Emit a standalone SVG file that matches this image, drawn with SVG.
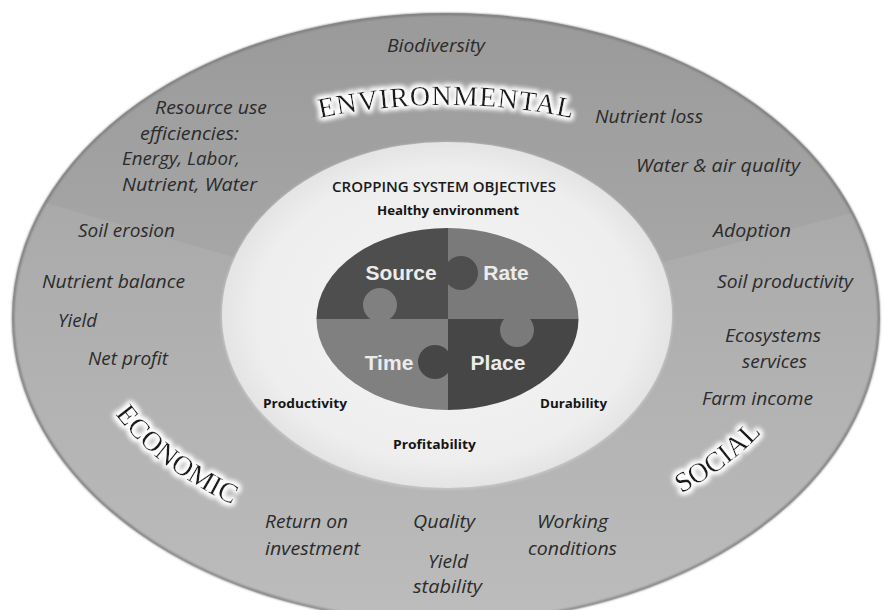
<svg xmlns="http://www.w3.org/2000/svg" width="884" height="610" viewBox="0 0 884 610">
  <defs>
    <linearGradient id="ringFill" x1="0" y1="0" x2="0" y2="1">
      <stop offset="0" stop-color="#a0a0a0"/>
      <stop offset="0.5" stop-color="#afafaf"/>
      <stop offset="1" stop-color="#bcbcbc"/>
    </linearGradient>
    <radialGradient id="coreFill" cx="0.5" cy="0.5" r="0.5">
      <stop offset="0" stop-color="#f4f4f4"/>
      <stop offset="0.85" stop-color="#eeeeee"/>
      <stop offset="1" stop-color="#e4e4e4"/>
    </radialGradient>
    <clipPath id="ringClip">
      <ellipse cx="446" cy="318" rx="434" ry="305"/>
    </clipPath>
    <clipPath id="puzzleClip">
      <ellipse cx="447.5" cy="319" rx="131" ry="91"/>
    </clipPath>
    <filter id="soft" x="-10%" y="-10%" width="120%" height="120%">
      <feGaussianBlur stdDeviation="1.2"/>
    </filter>
    <filter id="glow" x="-30%" y="-60%" width="160%" height="220%">
      <feMorphology in="SourceAlpha" operator="dilate" radius="1.5" result="wide"/>
      <feGaussianBlur in="wide" stdDeviation="2.6" result="blur"/>
      <feFlood flood-color="#ffffff"/>
      <feComposite in2="blur" operator="in" result="halo"/>
      <feMerge>
        <feMergeNode in="halo"/>
        <feMergeNode in="halo"/>
        <feMergeNode in="SourceGraphic"/>
      </feMerge>
    </filter>
    <!-- baselines for the three curved pillar titles -->
    <path id="arcEnv" d="M82,318 A364,213 0 0 1 810,318"/>
    <path id="arcEco" d="M83.4,298 A364,230 0 0 0 414.3,547.1"/>
    <path id="arcSoc" d="M477.7,547.1 A364,230 0 0 0 808.6,298"/>
    <style>
      .item { font-family: "Open Sans", "Liberation Sans", sans-serif; font-style: italic; font-size: 18px; fill: #2b2b2b; }
      .goal { font-family: "Open Sans", "Liberation Sans", sans-serif; font-weight: bold; font-size: 12.5px; fill: #151515; }
      .title { font-family: "Open Sans", "Liberation Sans", sans-serif; font-weight: 600; font-size: 14px; fill: #1a1a1a; }
      .pillar { font-family: "Liberation Serif", "Times New Roman", serif; font-size: 28px; fill: #1c1c1c; filter: url(#glow); }
      .piece { font-family: "Liberation Sans", Arial, sans-serif; font-weight: bold; font-size: 21px; fill: #ececec; text-anchor: middle; }
    </style>
  </defs>

  <rect width="884" height="610" fill="#ffffff"/>

  <!-- outer ring: environmental / economic / social -->
  <g id="ring">
    <ellipse cx="446" cy="318" rx="434" ry="305" fill="url(#ringFill)"/>
    <g clip-path="url(#ringClip)">
      <path d="M446,318 L0,190 L0,0 L884,0 L884,205 Z" fill="#000000" opacity="0.03"/>
    </g>
    <ellipse cx="446" cy="318" rx="433" ry="304" fill="none" stroke="#767676" stroke-width="2" filter="url(#soft)"/>
  </g>

  <!-- inner field: cropping system objectives -->
  <g id="objectives">
    <ellipse cx="447" cy="316" rx="226" ry="174" fill="#c4c4c4" filter="url(#soft)"/>
    <ellipse cx="447" cy="315" rx="225" ry="173" fill="url(#coreFill)"/>
    <text class="title" x="444" y="192" text-anchor="middle" textLength="224" lengthAdjust="spacingAndGlyphs">CROPPING SYSTEM OBJECTIVES</text>
    <text class="goal" x="377" y="215" textLength="142" lengthAdjust="spacingAndGlyphs">Healthy environment</text>
    <text class="goal" x="263" y="408" textLength="84" lengthAdjust="spacingAndGlyphs">Productivity</text>
    <text class="goal" x="540" y="408" textLength="67" lengthAdjust="spacingAndGlyphs">Durability</text>
    <text class="goal" x="393" y="449" textLength="83" lengthAdjust="spacingAndGlyphs">Profitability</text>
  </g>

  <!-- 4R puzzle: quarter pieces first, then the interlocking knobs on top -->
  <g id="puzzle" clip-path="url(#puzzleClip)">
    <g id="piece-source"><rect x="310" y="220" width="138" height="99" fill="#4e4e4e"/></g>
    <g id="piece-rate"><rect x="448" y="220" width="140" height="99" fill="#7a7a7a"/></g>
    <g id="piece-time"><rect x="310" y="319" width="138" height="100" fill="#808080"/></g>
    <g id="piece-place"><rect x="448" y="319" width="140" height="100" fill="#464646"/></g>
    <g id="knobs">
      <circle cx="461" cy="273" r="17" fill="#4e4e4e"/>
      <circle cx="517" cy="330" r="17" fill="#7a7a7a"/>
      <circle cx="380" cy="305" r="17" fill="#808080"/>
      <circle cx="435" cy="362" r="17" fill="#464646"/>
    </g>
  </g>
  <g id="puzzle-labels">
    <text class="piece" x="401" y="280">Source</text>
    <text class="piece" x="506" y="280">Rate</text>
    <text class="piece" x="389" y="370">Time</text>
    <text class="piece" x="498" y="370">Place</text>
  </g>

  <!-- pillar titles -->
  <g id="pillar-environmental">
    <text class="pillar"><textPath href="#arcEnv" startOffset="50%" text-anchor="middle" textLength="254">ENVIRONMENTAL</textPath></text>
  </g>
  <g id="pillar-economic">
    <text class="pillar"><textPath href="#arcEco" startOffset="43%" text-anchor="middle">ECONOMIC</textPath></text>
  </g>
  <g id="pillar-social">
    <text class="pillar"><textPath href="#arcSoc" startOffset="57%" text-anchor="middle">SOCIAL</textPath></text>
  </g>

  <!-- indicators in the ring -->
  <g id="indicators">
    <text class="item" x="387" y="52" textLength="98" lengthAdjust="spacingAndGlyphs">Biodiversity</text>
    <text class="item" x="155" y="114" textLength="112" lengthAdjust="spacingAndGlyphs">Resource use</text>
    <text class="item" x="140" y="140" textLength="99" lengthAdjust="spacingAndGlyphs">efficiencies:</text>
    <text class="item" x="122" y="165" textLength="118" lengthAdjust="spacingAndGlyphs">Energy, Labor,</text>
    <text class="item" x="122" y="191" textLength="135" lengthAdjust="spacingAndGlyphs">Nutrient, Water</text>
    <text class="item" x="595" y="123" textLength="108" lengthAdjust="spacingAndGlyphs">Nutrient loss</text>
    <text class="item" x="636" y="172" textLength="164" lengthAdjust="spacingAndGlyphs">Water &amp; air quality</text>
    <text class="item" x="713" y="237" textLength="78" lengthAdjust="spacingAndGlyphs">Adoption</text>
    <text class="item" x="717" y="288" textLength="136" lengthAdjust="spacingAndGlyphs">Soil productivity</text>
    <text class="item" x="725" y="342" textLength="96" lengthAdjust="spacingAndGlyphs">Ecosystems</text>
    <text class="item" x="742" y="368" textLength="65" lengthAdjust="spacingAndGlyphs">services</text>
    <text class="item" x="702" y="405" textLength="111" lengthAdjust="spacingAndGlyphs">Farm income</text>
    <text class="item" x="78" y="237" textLength="97" lengthAdjust="spacingAndGlyphs">Soil erosion</text>
    <text class="item" x="42" y="288" textLength="143" lengthAdjust="spacingAndGlyphs">Nutrient balance</text>
    <text class="item" x="58" y="327" textLength="39" lengthAdjust="spacingAndGlyphs">Yield</text>
    <text class="item" x="88" y="365" textLength="80" lengthAdjust="spacingAndGlyphs">Net profit</text>
    <text class="item" x="265" y="528" textLength="83" lengthAdjust="spacingAndGlyphs">Return on</text>
    <text class="item" x="265" y="555" textLength="95" lengthAdjust="spacingAndGlyphs">investment</text>
    <text class="item" x="413" y="528" textLength="62" lengthAdjust="spacingAndGlyphs">Quality</text>
    <text class="item" x="428" y="568" textLength="40" lengthAdjust="spacingAndGlyphs">Yield</text>
    <text class="item" x="413" y="593" textLength="69" lengthAdjust="spacingAndGlyphs">stability</text>
    <text class="item" x="537" y="528" textLength="71" lengthAdjust="spacingAndGlyphs">Working</text>
    <text class="item" x="528" y="555" textLength="89" lengthAdjust="spacingAndGlyphs">conditions</text>
  </g>
</svg>
